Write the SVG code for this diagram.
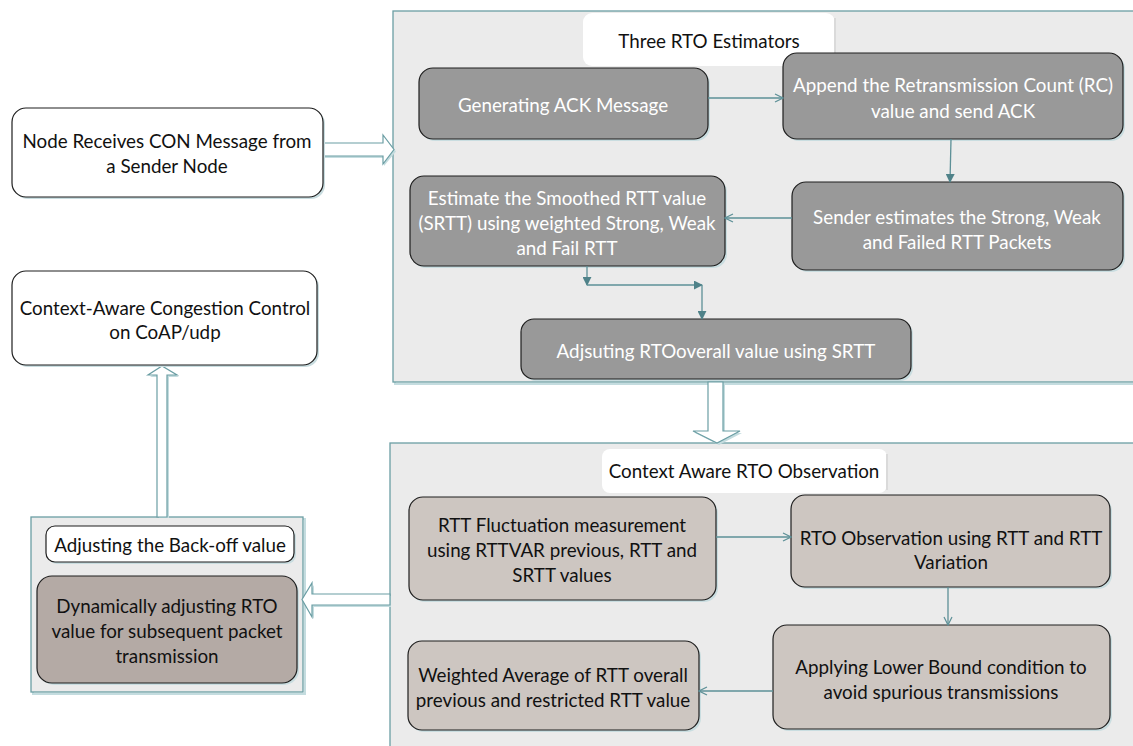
<svg xmlns="http://www.w3.org/2000/svg" width="1133" height="746" viewBox="0 0 1133 746">
  <defs>
    <style>
      .panel { fill: #ebebeb; stroke: #6b9ea4; stroke-width: 1.3; }
      .panel-shadow { fill: none; stroke: #c4dcdf; stroke-width: 2; }
      .plain { fill: #ffffff; stroke: #1e1e1e; stroke-width: 1.2; }
      .title { fill: #ffffff; stroke: none; }
      .dark { fill: #999999; stroke: #1e1e1e; stroke-width: 1.2; }
      .tan { fill: #cdc6c1; stroke: #1e1e1e; stroke-width: 1.2; }
      .brown { fill: #b4aaa5; stroke: #1e1e1e; stroke-width: 1.2; }
      .node-shadow { fill: #c9dde0; stroke: none; }
      .t { font-family: Lato, "Liberation Sans", sans-serif; font-size: 18.8px; text-anchor: middle; dominant-baseline: central; fill: #111111; }
      .tw { fill: #ffffff; }
      .conn { fill: none; stroke: #5d9097; stroke-width: 1.3; }
      .block { fill: #ffffff; stroke: #6b9ea4; stroke-width: 1.2; stroke-linejoin: miter; }
      .block-shadow { fill: #c4dcdf; stroke: none; }
    </style>
    <marker id="open" viewBox="0 0 10 10" refX="9" refY="5" markerWidth="10" markerHeight="10" markerUnits="userSpaceOnUse" orient="auto">
      <path d="M1,1 L9,5 L1,9" fill="none" stroke="#5d9097" stroke-width="1.2"/>
    </marker>
    <marker id="solid" viewBox="0 0 10 10" refX="9" refY="5" markerWidth="9" markerHeight="9" markerUnits="userSpaceOnUse" orient="auto">
      <path d="M0,0 L10,5 L0,10 Z" fill="#4f8289"/>
    </marker>
  </defs>

  <rect width="1133" height="746" fill="#ffffff"/>

  <!-- Group containers -->
  <g id="panel-estimators">
    <rect class="panel-shadow" x="395" y="13" width="760" height="371"/>
    <rect class="panel" x="393" y="11" width="760" height="371"/>
    <rect class="title" x="583" y="13" width="252" height="53" rx="9"/>
    <rect x="834" y="18" width="2" height="40" fill="#dadada"/>
    <text class="t" x="709" y="40">Three RTO Estimators</text>
  </g>

  <g id="panel-observation">
    <rect class="panel-shadow" x="392" y="445" width="760" height="320"/>
    <rect class="panel" x="390" y="443" width="760" height="320"/>
    <rect class="title" x="602" y="449" width="285" height="44" rx="8"/>
    <rect x="886" y="454" width="2" height="36" fill="#dadada"/>
    <text class="t" x="744" y="470">Context Aware RTO Observation</text>
  </g>

  <g id="panel-backoff">
    <rect class="panel-shadow" x="33" y="519" width="272" height="175"/>
    <rect class="panel" x="31" y="517" width="272" height="175"/>
  </g>

  <!-- Block arrows between stages -->
  <g id="block-arrows">
    <polygon class="block-shadow" points="324,145 384,145 384,137 396,151.5 384,166 384,158 324,158"/>
    <polygon class="block" points="323,143 383,143 383,135 394,149.5 383,164 383,156 323,156"/>

    <polygon class="block-shadow" points="710,383 725,383 725,433 742,433 719,445 695,433 710,433"/>
    <polygon class="block" points="708,382 723,382 723,431 740,431 717,443 693,431 708,431"/>

    <polygon class="block-shadow" points="159,518 169,518 169,377 179,377 164,368 150,377 159,377"/>
    <polygon class="block" points="157,517 167,517 167,375 177,375 162,366 148,375 157,375"/>

    <polygon class="block-shadow" points="391,596 314,596 314,585 304,601 314,619 314,607 391,607"/>
    <polygon class="block" points="390,594 312,594 312,583 302,599.5 312,617 312,605 390,605"/>
  </g>

  <!-- Stand-alone nodes -->
  <g id="node-receive">
    <rect class="node-shadow" x="14" y="110" width="311" height="89" rx="14"/>
    <rect class="plain" x="12" y="108" width="311" height="89" rx="14"/>
    <text class="t" x="167" y="140">Node Receives CON Message from</text>
    <text class="t" x="167" y="165">a Sender Node</text>
  </g>

  <g id="node-congestion">
    <rect class="node-shadow" x="14" y="273" width="305" height="94" rx="14"/>
    <rect class="plain" x="12" y="271" width="305" height="94" rx="14"/>
    <text class="t" x="165" y="307">Context-Aware Congestion Control</text>
    <text class="t" x="165" y="331">on CoAP/udp</text>
  </g>

  <!-- Back-off stage -->
  <g id="node-backoff-title">
    <rect class="node-shadow" x="48" y="528" width="248" height="36" rx="9"/>
    <rect class="plain" x="46" y="526" width="248" height="36" rx="9"/>
    <text class="t" x="170" y="544">Adjusting the Back-off value</text>
  </g>

  <g id="node-dynamic">
    <rect class="node-shadow" x="39" y="578" width="260" height="107" rx="15"/>
    <rect class="brown" x="37" y="576" width="260" height="107" rx="15"/>
    <text class="t" x="167" y="605">Dynamically adjusting RTO</text>
    <text class="t" x="167" y="630">value for subsequent packet</text>
    <text class="t" x="167" y="655">transmission</text>
  </g>

  <!-- Three RTO Estimators stage -->
  <g id="node-generate-ack">
    <rect class="node-shadow" x="421" y="70" width="289" height="71" rx="14"/>
    <rect class="dark" x="419" y="68" width="289" height="71" rx="14"/>
    <text class="t tw" x="563" y="104">Generating ACK Message</text>
  </g>

  <g id="node-append-rc">
    <rect class="node-shadow" x="785" y="55" width="340" height="86" rx="14"/>
    <rect class="dark" x="783" y="53" width="340" height="86" rx="14"/>
    <text class="t tw" x="953" y="84">Append the Retransmission Count (RC)</text>
    <text class="t tw" x="953" y="110">value and send ACK</text>
  </g>

  <g id="node-sender-estimates">
    <rect class="node-shadow" x="794" y="184" width="331" height="88" rx="14"/>
    <rect class="dark" x="792" y="182" width="331" height="88" rx="14"/>
    <text class="t tw" x="957" y="216">Sender estimates the Strong, Weak</text>
    <text class="t tw" x="957" y="241">and Failed RTT Packets</text>
  </g>

  <g id="node-srtt">
    <rect class="node-shadow" x="412" y="178" width="315" height="90" rx="14"/>
    <rect class="dark" x="410" y="176" width="315" height="90" rx="14"/>
    <text class="t tw" x="567" y="197">Estimate the Smoothed RTT value</text>
    <text class="t tw" x="567" y="222">(SRTT) using weighted Strong, Weak</text>
    <text class="t tw" x="567" y="247">and Fail RTT</text>
  </g>

  <g id="node-rto-overall">
    <rect class="node-shadow" x="523" y="321" width="390" height="60" rx="13"/>
    <rect class="dark" x="521" y="319" width="390" height="60" rx="13"/>
    <text class="t tw" x="716" y="350">Adjsuting RTOoverall value using SRTT</text>
  </g>

  <!-- Context Aware RTO Observation stage -->
  <g id="node-fluctuation">
    <rect class="node-shadow" x="411" y="499" width="307" height="103" rx="14"/>
    <rect class="tan" x="409" y="497" width="307" height="103" rx="14"/>
    <text class="t" x="562" y="524">RTT Fluctuation measurement</text>
    <text class="t" x="562" y="549">using RTTVAR previous, RTT and</text>
    <text class="t" x="562" y="574">SRTT values</text>
  </g>

  <g id="node-rto-observation">
    <rect class="node-shadow" x="793" y="497" width="319" height="92" rx="14"/>
    <rect class="tan" x="791" y="495" width="319" height="92" rx="14"/>
    <text class="t" x="951" y="537">RTO Observation using RTT and RTT</text>
    <text class="t" x="951" y="561">Variation</text>
  </g>

  <g id="node-lower-bound">
    <rect class="node-shadow" x="775" y="627" width="337" height="104" rx="14"/>
    <rect class="tan" x="773" y="625" width="337" height="104" rx="14"/>
    <text class="t" x="941" y="666">Applying Lower Bound condition to</text>
    <text class="t" x="941" y="691">avoid spurious transmissions</text>
  </g>

  <g id="node-weighted-average">
    <rect class="node-shadow" x="410" y="643" width="291" height="89" rx="14"/>
    <rect class="tan" x="408" y="641" width="291" height="89" rx="14"/>
    <text class="t" x="553" y="674">Weighted Average of RTT overall</text>
    <text class="t" x="553" y="699">previous and restricted RTT value</text>
  </g>

  <!-- Connectors -->
  <g id="connectors">
    <line class="conn" x1="708" y1="98" x2="783" y2="98" marker-end="url(#open)"/>
    <line class="conn" x1="951" y1="139" x2="950" y2="182" marker-end="url(#solid)"/>
    <line class="conn" x1="792" y1="218" x2="725" y2="218" marker-end="url(#open)"/>
    <line class="conn" x1="587" y1="266" x2="587" y2="285" marker-end="url(#solid)"/>
    <line class="conn" x1="587" y1="285" x2="702" y2="285" marker-end="url(#solid)"/>
    <line class="conn" x1="702" y1="285" x2="702" y2="319" marker-end="url(#solid)"/>
    <line class="conn" x1="716" y1="537" x2="791" y2="537" marker-end="url(#open)"/>
    <line class="conn" x1="948" y1="587" x2="948" y2="625" marker-end="url(#open)"/>
    <line class="conn" x1="773" y1="691" x2="699" y2="691" marker-end="url(#open)"/>
  </g>
</svg>
